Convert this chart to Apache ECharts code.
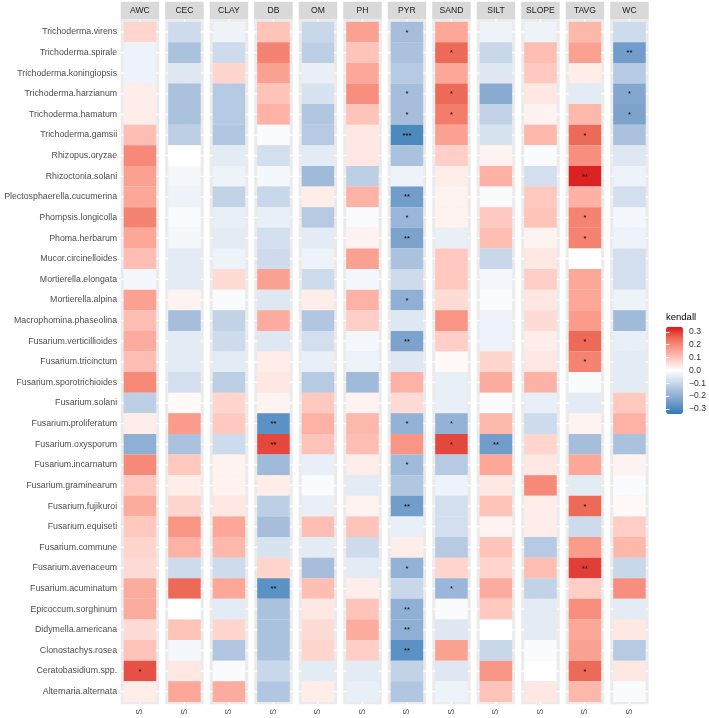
<!DOCTYPE html>
<html><head><meta charset="utf-8">
<script src="https://cdn.jsdelivr.net/npm/echarts@6/dist/echarts.min.js"></script>
<style>html,body{margin:0;padding:0;background:#fff}#c{width:709px;height:718px}</style>
</head><body><div id="c"></div>
<script>
// ---------- data ----------
const species = ['Trichoderma.virens','Trichoderma.spirale','Trichoderma.koningiopsis','Trichoderma.harzianum','Trichoderma.hamatum','Trichoderma.gamsii','Rhizopus.oryzae','Rhizoctonia.solani','Plectosphaerella.cucumerina','Phompsis.longicolla','Phoma.herbarum','Mucor.circinelloides','Mortierella.elongata','Mortierella.alpina','Macrophomina.phaseolina','Fusarium.verticillioides','Fusarium.tricinctum','Fusarium.sporotrichioides','Fusarium.solani','Fusarium.proliferatum','Fusarium.oxysporum','Fusarium.incarnatum','Fusarium.graminearum','Fusarium.fujikuroi','Fusarium.equiseti','Fusarium.commune','Fusarium.avenaceum','Fusarium.acuminatum','Epicoccum.sorghinum','Didymella.americana','Clonostachys.rosea','Ceratobasidium.spp.','Alternaria.alternata'];
const variables = ['AWC','CEC','CLAY','DB','OM','PH','PYR','SAND','SILT','SLOPE','TAVG','WC'];
const xTickLabels = ['S'];
const legendTicks = [-0.3,-0.2,-0.1,0,0.1,0.2,0.3];

const AWC   = [0.07,-0.03,-0.03,0.03,0.03,0.11,0.20,0.16,0.15,0.21,0.15,0.11,-0.02,0.16,0.11,0.14,0.11,0.20,-0.12,0.03,-0.20,0.20,0.09,0.14,0.09,0.07,0.06,0.14,0.14,0.06,0.10,0.28,0.03];
const CEC   = [-0.09,-0.15,-0.06,-0.15,-0.15,-0.12,0.00,-0.02,-0.03,-0.01,-0.02,-0.05,-0.05,0.02,-0.16,-0.05,-0.05,-0.08,0.01,0.17,-0.15,0.09,0.03,0.07,0.18,0.13,-0.09,0.25,0.00,0.10,-0.02,0.04,0.15];
const CLAY  = [-0.03,-0.09,0.07,-0.13,-0.13,-0.14,-0.05,-0.03,-0.11,-0.04,-0.05,-0.03,0.06,-0.01,-0.11,-0.09,-0.05,-0.12,0.07,0.09,-0.09,0.02,0.02,0.04,0.15,0.12,-0.09,0.15,-0.05,0.07,-0.14,-0.01,0.14];
const DB    = [0.10,0.21,0.16,0.10,0.13,-0.01,-0.08,-0.02,-0.10,-0.04,-0.08,-0.09,0.16,-0.06,0.14,-0.06,0.03,0.04,0.02,-0.28,0.29,-0.17,0.03,-0.12,-0.16,-0.07,0.07,-0.28,-0.15,-0.15,-0.15,-0.10,-0.14];
const OM    = [-0.10,-0.12,-0.04,-0.07,-0.14,-0.13,-0.05,-0.17,0.03,-0.13,-0.05,-0.03,-0.09,0.03,-0.14,-0.08,-0.04,-0.13,0.09,0.13,0.10,-0.04,-0.01,-0.04,0.11,-0.05,-0.16,0.11,0.04,0.06,0.07,-0.05,0.03];
const PH    = [0.16,0.10,0.15,0.19,0.10,0.04,0.04,-0.12,0.13,-0.01,0.02,0.16,-0.02,0.13,0.08,-0.02,-0.03,-0.17,0.02,0.12,0.11,0.03,-0.05,0.02,0.10,-0.09,-0.05,0.03,0.10,0.14,0.08,-0.05,-0.04];
const PYR   = [-0.16,-0.15,-0.13,-0.16,-0.16,-0.30,-0.15,-0.03,-0.25,-0.18,-0.23,-0.15,-0.09,-0.20,-0.06,-0.23,-0.06,0.13,0.06,-0.19,0.18,-0.17,-0.14,-0.25,-0.04,0.03,-0.19,-0.10,-0.20,-0.20,-0.28,-0.11,-0.14];
const SAND  = [0.15,0.25,0.15,0.25,0.22,0.16,0.08,0.03,0.02,0.02,-0.04,0.09,0.09,0.06,0.18,0.08,0.01,-0.04,-0.04,-0.19,0.29,-0.13,-0.03,-0.08,-0.08,-0.13,0.07,-0.18,-0.01,-0.06,0.16,-0.06,-0.03];
const SILT  = [-0.03,-0.10,-0.06,-0.21,-0.11,-0.07,0.02,0.13,-0.01,0.09,0.11,-0.10,-0.02,-0.01,-0.03,-0.03,0.07,0.14,-0.01,0.12,-0.25,0.15,0.04,0.10,0.02,0.10,0.07,0.14,0.09,0.00,-0.10,0.18,0.10];
const SLOPE = [-0.03,0.11,0.09,0.04,0.02,0.12,-0.01,-0.08,0.09,0.10,0.02,0.04,0.08,0.04,0.06,0.03,0.04,0.13,-0.04,-0.09,0.07,0.04,0.20,0.03,0.03,-0.13,0.11,-0.11,-0.05,-0.05,-0.01,0.00,0.04];
const TAVG  = [0.12,0.16,0.03,-0.05,0.12,0.25,0.19,0.33,0.13,0.21,0.21,0.00,0.15,0.15,0.17,0.25,0.21,-0.01,-0.05,0.02,-0.16,0.15,-0.05,0.25,-0.09,0.17,0.30,0.08,0.19,0.15,0.16,0.25,0.12];
const WC    = [-0.09,-0.25,-0.13,-0.22,-0.23,-0.15,-0.06,-0.03,-0.08,-0.02,-0.03,-0.08,-0.08,-0.03,-0.17,-0.04,-0.05,-0.05,0.09,0.13,-0.15,0.02,-0.01,0.01,0.08,0.12,-0.10,0.19,-0.05,0.04,-0.13,0.04,-0.01];

// significance marks: [variable, species index, label]
const stars = [
  ['PYR',0,'*'],['PYR',3,'*'],['PYR',4,'*'],['PYR',5,'***'],['PYR',8,'**'],['PYR',9,'*'],['PYR',10,'**'],
  ['PYR',13,'*'],['PYR',15,'**'],['PYR',19,'*'],['PYR',21,'*'],['PYR',23,'**'],['PYR',26,'*'],
  ['PYR',28,'**'],['PYR',29,'**'],['PYR',30,'**'],
  ['SAND',1,'*'],['SAND',3,'*'],['SAND',4,'*'],['SAND',19,'*'],['SAND',20,'*'],['SAND',27,'*'],
  ['WC',1,'**'],['WC',3,'*'],['WC',4,'*'],
  ['TAVG',5,'*'],['TAVG',7,'**'],['TAVG',9,'*'],['TAVG',10,'*'],['TAVG',15,'*'],['TAVG',16,'*'],
  ['TAVG',23,'*'],['TAVG',26,'**'],['TAVG',31,'*'],
  ['DB',19,'**'],['DB',20,'**'],['DB',27,'**'],
  ['SILT',20,'**'],
  ['AWC',31,'*']
];

// ---------- table built from arrays ----------
const columns = {AWC, CEC, CLAY, DB, OM, PH, PYR, SAND, SILT, SLOPE, TAVG, WC};
const starOf = {};
stars.forEach(([v, k, s]) => { starOf[v + '|' + k] = s; });

// ---------- layout / style ----------
const FONT = 'Liberation Sans, Arial, Helvetica, sans-serif';
const PANEL_LEFT = 120.7, PANEL_STEP = 44.5, PANEL_W = 38.5, PANEL_TOP = 19.3, PANEL_H = 685;
const STRIP_H = 17.6;
const X_HALF = 0.592;
const Y_MIN = -0.614, Y_MAX = species.length - 1 + 0.614;
const LIM = 0.34;
const palette = ['#2C7BB6','#6F9AC8','#A0BADA','#D0DDED','#FFFFFF','#FFCCC3','#FB9B8B','#ED6755','#D7191C'];

const grids = [], xAxes = [], yAxes = [], series = [];
const rowIdx = species.map((_, k) => k);

variables.forEach((v, i) => {
  grids.push({left: PANEL_LEFT + i * PANEL_STEP, top: PANEL_TOP, width: PANEL_W, height: PANEL_H,
    show: true, backgroundColor: '#EBEBEB', borderWidth: 0});
  xAxes.push({type: 'value', gridIndex: i, min: -X_HALF, max: X_HALF,
    axisLine: {show: false}, splitLine: {show: false},
    axisTick: {show: true, customValues: [0], length: 2.7, lineStyle: {color: '#333', width: 1}},
    axisLabel: {show: true, customValues: [0], formatter: () => xTickLabels[0], rotate: 90,
      margin: 4.5, fontSize: 8.8, color: '#4D4D4D', fontFamily: FONT}});
  xAxes.push({type: 'category', gridIndex: i, position: 'top', data: [v],
    axisLine: {show: false}, axisTick: {show: false}, splitLine: {show: false},
    axisLabel: {show: true, margin: 0, fontSize: 8.6, color: '#1A1A1A', fontFamily: FONT,
      backgroundColor: '#D9D9D9', width: PANEL_W, height: STRIP_H, lineHeight: STRIP_H,
      align: 'center', verticalAlign: 'bottom', padding: 0}});
  yAxes.push({type: 'value', gridIndex: i, min: Y_MIN, max: Y_MAX, inverse: true,
    axisLine: {show: false}, splitLine: {show: false},
    axisTick: {show: i === 0, customValues: rowIdx, length: 2.7, lineStyle: {color: '#333', width: 1}},
    axisLabel: {show: i === 0, customValues: rowIdx, formatter: (val) => species[Math.round(val)],
      margin: 3.6, fontSize: 8.8, color: '#4D4D4D', fontFamily: FONT}});
  const vals = columns[v];
  series.push({
    type: 'custom', xAxisIndex: 2 * i, yAxisIndex: i, coordinateSystem: 'cartesian2d',
    data: vals.map((val, k) => [0, k, val]),
    encode: {x: 0, y: 1},
    silent: true, animation: false,
    renderItem: (params, api) => {
      const k = api.value(1);
      const a = api.coord([-0.5, k - 0.5]);
      const b = api.coord([0.5, k + 0.5]);
      const l = api.coord([-X_HALF, k]);
      const r = api.coord([X_HALF, k]);
      const children = [];
      if (params.dataIndex === 0) {
        const t = api.coord([0, Y_MIN]), btm = api.coord([0, Y_MAX]);
        children.push({type: 'line', shape: {x1: t[0], y1: t[1], x2: btm[0], y2: btm[1]},
          style: {stroke: '#FFFFFF', lineWidth: 1.2}});
      }
      children.push({type: 'line', shape: {x1: l[0], y1: l[1], x2: r[0], y2: r[1]},
        style: {stroke: '#FFFFFF', lineWidth: 1.2}});
      children.push({type: 'rect', shape: {x: Math.min(a[0], b[0]), y: Math.min(a[1], b[1]),
        width: Math.abs(b[0] - a[0]), height: Math.abs(b[1] - a[1])},
        style: {fill: api.visual('color')}});
      const s = starOf[v + '|' + k];
      if (s) {
        children.push({type: 'text', style: {text: s, x: (a[0] + b[0]) / 2, y: (a[1] + b[1]) / 2 + 0.5,
          align: 'center', verticalAlign: 'middle', fontSize: 7.5, fill: '#000', fontFamily: FONT}});
      }
      return {type: 'group', children};
    }
  });
});

// legend colourbar axis
const LG = variables.length;
grids.push({left: 666, top: 326.7, width: 17, height: 87.3, show: false});
xAxes.push({type: 'value', gridIndex: LG, show: false});
const fmt = (val) => (val < -1e-9 ? '\u2212' + Math.abs(val).toFixed(1) : Math.abs(val).toFixed(1));
yAxes.push({type: 'value', gridIndex: LG, min: -LIM, max: LIM, position: 'right', z: 10,
  axisLine: {show: false}, splitLine: {show: false},
  axisTick: {show: true, inside: true, customValues: legendTicks, length: 3.4, lineStyle: {color: '#FFFFFF', width: 1}},
  axisLabel: {show: true, customValues: legendTicks, formatter: fmt, margin: 6, fontSize: 8.6, color: '#333', fontFamily: FONT}});
yAxes.push({type: 'value', gridIndex: LG, min: -LIM, max: LIM, position: 'left', z: 10,
  axisLine: {show: false}, splitLine: {show: false},
  axisTick: {show: true, inside: true, customValues: legendTicks, length: 3.4, lineStyle: {color: '#FFFFFF', width: 1}},
  axisLabel: {show: false}});

const chart = echarts.init(document.getElementById('c'), null, {renderer: 'canvas'});
chart.setOption({
  backgroundColor: '#FFFFFF',
  animation: false,
  title: {text: 'kendall', left: 666, top: 312.5, padding: 0,
    textStyle: {fontSize: 9.5, fontWeight: 'normal', color: '#000', fontFamily: FONT}},
  grid: grids,
  xAxis: xAxes,
  yAxis: yAxes,
  visualMap: {type: 'continuous', min: -LIM, max: LIM, dimension: 2,
    seriesIndex: variables.map((_, i) => i),
    inRange: {color: palette},
    left: 666, top: 326.7, itemWidth: 17, itemHeight: 87.3, padding: 0,
    calculable: false, text: null, hoverLink: false, z: 4},
  series
});
</script></body></html>
